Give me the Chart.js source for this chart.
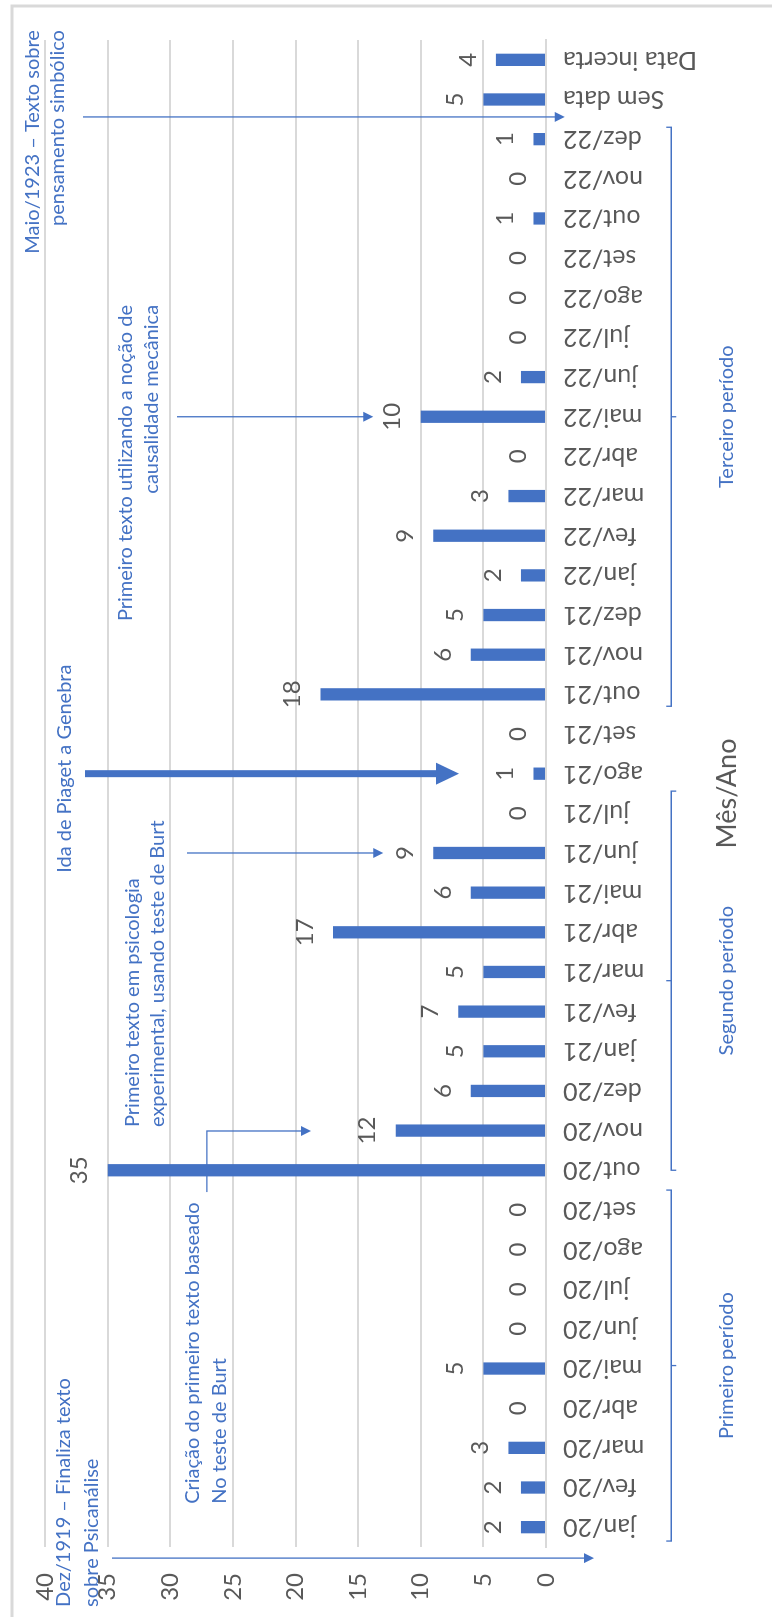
<!DOCTYPE html>
<html lang="pt">
<head>
<meta charset="utf-8">
<title>Textos por mês</title>
<script src="https://cdn.jsdelivr.net/npm/chart.js@4.4.0/dist/chart.umd.min.js"></script>
<style>
  html, body { margin: 0; padding: 0; background: #fff; overflow: hidden; }
  body { width: 772px; height: 1617px; position: relative; }
  /* the chart is drawn as a normal column chart, then turned a quarter turn */
  #wrap {
    position: absolute; left: 0; top: 0;
    width: 1617px; height: 772px;
    transform-origin: 0 0;
    transform: translateY(1617px) rotate(-90deg);
  }
</style>
</head>
<body>
<div id="wrap"><canvas id="chart" width="1617" height="772"></canvas></div>
<script>
const categories = [
  'jan/20', 'fev/20', 'mar/20', 'abr/20', 'mai/20', 'jun/20', 'jul/20', 'ago/20', 'set/20', 'out/20', 'nov/20', 'dez/20',
  'jan/21', 'fev/21', 'mar/21', 'abr/21', 'mai/21', 'jun/21', 'jul/21', 'ago/21', 'set/21', 'out/21', 'nov/21', 'dez/21',
  'jan/22', 'fev/22', 'mar/22', 'abr/22', 'mai/22', 'jun/22', 'jul/22', 'ago/22', 'set/22', 'out/22', 'nov/22', 'dez/22',
  'Sem data', 'Data incerta'
];
const counts = [
  2, 2, 3, 0, 5, 0, 0, 0, 0, 35, 12, 6,
  5, 7, 5, 17, 6, 9, 0, 1, 0, 18, 6, 5,
  2, 9, 3, 0, 10, 2, 0, 0, 0, 1, 0, 1,
  5, 4
];
const axisMax = 40;
const axisStep = 5;
const axisTitle = 'Mês/Ano';

// periods: first / last category covered, label in the middle
const periodNames = ['Primeiro período', 'Segundo período', 'Terceiro período'];
const periodSpans = [[-0.35, 8.5], [9.0, 18.56], [20.7, 35.3]];

// notes placed in chart units: x = category index, y = axis value
const notes = [
  { lines: ['Dez/1919 – Finaliza texto', 'sobre Psicanálise'], x: -2.01, y: [38.48, 36.3], align: 'left',
    arrow: [[-0.78, 34.65], [-0.78, -3.83]] },
  { lines: ['Criação do primeiro texto baseado', 'No teste de Burt'], x: 0.59, y: [28.18, 26.1], align: 'left',
    arrow: [[8.45, 27.07], [9.99, 27.07], [9.99, 18.76]] },
  { lines: ['Primeiro texto em psicologia', 'experimental, usando teste de Burt'], x: 10.09, y: [33.05, 31.0], align: 'left',
    arrow: [[17, 28.66], [17, 13.0]] },
  { lines: ['Ida de Piaget a Genebra'], x: 16.5, y: [38.4], align: 'left',
    arrow: [[19, 36.8], [19, 6.95]], bold: true },
  { lines: ['Primeiro texto utilizando a noção de', 'causalidade mecânica'], x: 30.82, y: [33.53, 31.46], align: 'right',
    arrow: [[28, 29.46], [28, 13.8]] },
  { lines: ['Maio/1923 – Texto sobre', 'pensamento simbólico'], x: 37.75, y: [40.96, 38.96], align: 'right',
    arrow: [[35.56, 36.97], [35.56, -1.5]] }
];

const blue = '#4472C4';
const grey = '#595959';
const FONT = 'Lato, "Open Sans", sans-serif';

// draws the shaft up to the base of the head, then the head
function arrow(ctx, pts, width, len, half) {
  const to = pts[pts.length - 1], from = pts[pts.length - 2];
  const a = Math.atan2(to[1] - from[1], to[0] - from[0]);
  const base = [to[0] - len * Math.cos(a), to[1] - len * Math.sin(a)];
  ctx.lineWidth = width;
  ctx.beginPath();
  ctx.moveTo(pts[0][0], pts[0][1]);
  for (let k = 1; k < pts.length - 1; k++) ctx.lineTo(pts[k][0], pts[k][1]);
  ctx.lineTo(base[0] + Math.cos(a), base[1] + Math.sin(a));
  ctx.stroke();
  ctx.beginPath();
  ctx.moveTo(to[0], to[1]);
  ctx.lineTo(base[0] + half * Math.sin(a), base[1] - half * Math.cos(a));
  ctx.lineTo(base[0] - half * Math.sin(a), base[1] + half * Math.cos(a));
  ctx.closePath();
  ctx.fill();
}

const framePlugin = {
  id: 'frame',
  beforeDraw(chart) {
    const ctx = chart.ctx;
    ctx.save();
    ctx.strokeStyle = '#d9d9d9';
    ctx.lineWidth = 3;
    ctx.beginPath();
    ctx.moveTo(0, 12);
    ctx.lineTo(1611, 12);
    ctx.lineTo(1611, chart.height);
    ctx.stroke();
    ctx.restore();
  }
};

const valueLabels = {
  id: 'valueLabels',
  afterDatasetsDraw(chart) {
    const ctx = chart.ctx;
    ctx.save();
    ctx.font = '24px ' + FONT;
    ctx.fillStyle = grey;
    ctx.textAlign = 'center';
    ctx.textBaseline = 'middle';
    chart.getDatasetMeta(0).data.forEach((bar, i) => {
      ctx.fillText(String(counts[i]), bar.x, bar.y - 28);
    });
    ctx.restore();
  }
};

const notesPlugin = {
  id: 'notes',
  afterDraw(chart) {
    const ctx = chart.ctx;
    const xs = chart.scales.x, ys = chart.scales.y;
    const pt = p => [xs.getPixelForValue(p[0]), ys.getPixelForValue(p[1])];
    ctx.save();
    ctx.fillStyle = blue;
    ctx.strokeStyle = blue;
    ctx.textBaseline = 'middle';
    ctx.font = '20px ' + FONT;

    notes.forEach(n => {
      ctx.textAlign = n.align;
      n.lines.forEach((line, k) => {
        ctx.fillText(line, xs.getPixelForValue(n.x), ys.getPixelForValue(n.y[k]));
      });
      const pts = n.arrow.map(pt);
      if (n.bold) arrow(ctx, pts, 7, 23, 11);
      else arrow(ctx, pts, 1.3, 10, 5);
    });

    // period braces under the month labels
    const braceY = ys.getPixelForValue(-10);
    const labelY = ys.getPixelForValue(-14.45);
    ctx.lineWidth = 1.3;
    ctx.textAlign = 'center';
    periodSpans.forEach((span, k) => {
      const x0 = xs.getPixelForValue(span[0]);
      const x1 = xs.getPixelForValue(span[1]);
      const xm = (x0 + x1) / 2;
      const d = k === 1 ? 5 : -5;
      ctx.beginPath();
      ctx.moveTo(x0, braceY + d);
      ctx.lineTo(x0, braceY);
      ctx.lineTo(x1, braceY);
      ctx.lineTo(x1, braceY + d);
      ctx.moveTo(xm, braceY);
      ctx.lineTo(xm, braceY - d);
      ctx.stroke();
      ctx.fillText(periodNames[k], xm, labelY);
    });
    ctx.restore();
  }
};

function draw() {
  new Chart(document.getElementById('chart'), {
    type: 'bar',
    data: {
      labels: categories,
      datasets: [{
        data: counts,
        backgroundColor: blue,
        barPercentage: 0.31,
        categoryPercentage: 1
      }]
    },
    options: {
      responsive: false,
      animation: false,
      devicePixelRatio: 1,
      layout: { padding: { left: 0, right: 40, top: 45, bottom: 0 } },
      plugins: { legend: { display: false }, tooltip: { enabled: false } },
      scales: {
        x: {
          grid: { display: false, drawTicks: false },
          border: { display: true, color: '#d9d9d9', width: 2 },
          ticks: {
            autoSkip: false, minRotation: 90, maxRotation: 90, padding: 17,
            color: grey, font: { family: FONT, size: 25 }
          },
          title: {
            display: true, text: axisTitle, color: grey,
            font: { family: FONT, size: 27 }, padding: { top: 0, bottom: 29 }
          },
          afterFit: s => { s.height = 226; }
        },
        y: {
          min: 0, max: axisMax,
          ticks: { stepSize: axisStep, padding: 26, color: grey, font: { family: FONT, size: 24 } },
          grid: { color: '#d9d9d9', lineWidth: 2, drawTicks: false },
          border: { display: false },
          afterFit: s => { s.width = 70; }
        }
      }
    },
    plugins: [framePlugin, valueLabels, notesPlugin]
  });
}

Promise.all([
  document.fonts.load('24px Lato'),
  document.fonts.load('20px Lato')
]).then(draw, draw);
</script>
</body>
</html>
